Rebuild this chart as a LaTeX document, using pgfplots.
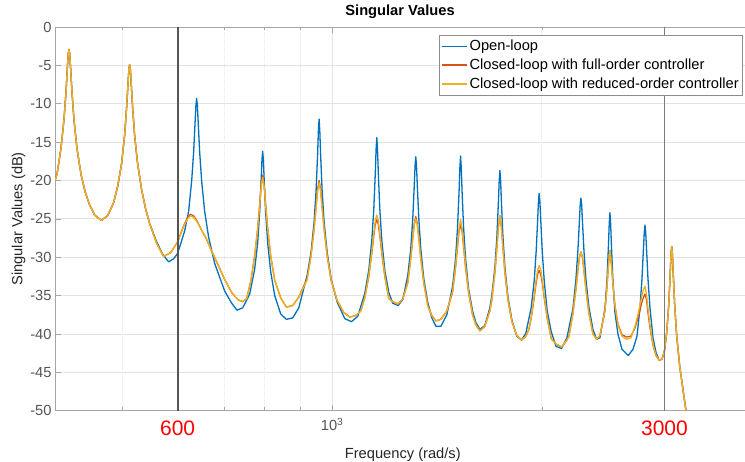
\documentclass[border=0pt]{standalone}
\usepackage{fontspec}
\setmainfont{Liberation Sans}
\usepackage{pgfplots}
\pgfplotsset{compat=1.18}
\definecolor{mblue}{HTML}{0072BD}
\definecolor{morange}{HTML}{D95319}
\definecolor{myellow}{HTML}{EDB120}
\definecolor{tickgray}{HTML}{555555}
\definecolor{labgray}{HTML}{262626}
\definecolor{axgray}{HTML}{A6A6A6}
\definecolor{gridgray}{HTML}{E3E3E3}
\definecolor{mgridgray}{HTML}{E6E6E6}
\definecolor{legedge}{HTML}{8C8C8C}
\definecolor{vline}{HTML}{555555}
\definecolor{vlineb}{HTML}{7A7A7A}
\begin{document}
\begin{tikzpicture}
\begin{axis}[
  at={(0pt,0pt)}, anchor=south west,
  scale only axis, width=690pt, height=383.7pt,
  xmode=log, xmin=400, xmax=3916, ymin=-50, ymax=0,
  axis y line*=left,
  axis line style={axgray, line width=0.8pt},
  font=\fontsize{14.67}{17.6}\selectfont,
  ytick={-50,-45,...,0},
  xtick={1000}, xticklabels={10\textsuperscript{3}},
  x tick label style={yshift=-4pt},
  minor xtick={400,500,600,700,800,900,2000,3000},
  extra x ticks={600,3000},
  extra x tick labels={600,3000},
  extra x tick style={major tick length=0pt, xmajorgrids=false,
     tick label style={text=red, font=\fontsize{21}{25}\selectfont, yshift=-3pt}},
  /pgf/number format/assume math mode=true,
  tick label style={text=tickgray},
  major tick length=6pt, minor tick length=3.3pt,
  tick style={axgray, line width=0.6pt},
  ymajorgrids, xmajorgrids, xminorgrids,
  major grid style={gridgray, line width=0.7pt},
  minor grid style={mgridgray, line width=0.7pt, dash pattern=on 1pt off 1pt},
  every axis title shift=0pt,
  title={Singular Values},
  title style={at={(axis description cs:0.5,1.0391)}, anchor=center, font=\fontsize{14.67}{17.6}\selectfont\bfseries, text=black},
  xlabel={Frequency (rad/s)},
  xlabel style={at={(axis description cs:0.504,-0.114)}, anchor=center, text=labgray},
  ylabel={Singular Values (dB)},
  ylabel style={at={(axis description cs:-0.0529,0.5)}, anchor=center, text=labgray},
  legend style={at={(rel axis cs:0.9971,0.97915)}, anchor=north east, draw=legedge, line width=0.6pt, fill=white,
     text=black, font=\fontsize{14.67}{17.6}\selectfont, inner xsep=2pt, inner ysep=1.5pt, row sep=0pt,
     nodes={inner ysep=3.4pt, inner xsep=2pt}},
  legend cell align=left,
  legend image code/.code={\draw[#1] (0pt,0pt) -- (25pt,0pt);},
  every axis plot/.append style={line join=round},
]
\addlegendimage{draw=mblue, line width=1.5pt}
\addlegendentry{Open-loop}
\addlegendimage{draw=morange, line width=1.5pt}
\addlegendentry{Closed-loop with full-order controller}
\addlegendimage{draw=myellow, line width=1.5pt}
\addlegendentry{Closed-loop with reduced-order controller}
\addplot[forget plot, draw=mblue, line width=1.3pt] coordinates {
(400,-20.0) (402.6,-19.2) (408.0,-15.8) (412.0,-12.1) (414.8,-8.5) (416.8,-5.1) (417.9,-3.5) (418.9,-2.9)
(419.9,-3.5) (421.0,-5.1) (423.1,-8.5) (425.9,-12.1) (430.1,-15.8) (435.9,-19.2) (441.7,-21.4) (447.6,-23.0)
(455.9,-24.5) (466.2,-25.2) (476.0,-24.6) (485.5,-22.9) (492.0,-20.8) (498.5,-17.8) (503.5,-14.1) (506.8,-10.5)
(509.4,-7.1) (510.7,-5.5) (511.9,-4.9) (513.1,-5.5) (514.4,-7.1) (517.0,-10.5) (520.4,-14.1) (525.6,-17.8)
(532.6,-21.2) (539.7,-23.7) (546.9,-25.6)
(559.7,-28.0) (571.0,-29.6) (582.4,-30.6) (592.1,-30.2) (600.0,-29.5) (614.0,-26.6) (622.2,-24.0) (628.4,-20.1)
(632.6,-16.3) (635.7,-12.3) (637.4,-10.2) (638.9,-9.3) (640.4,-10.2) (642.1,-12.3) (645.3,-16.3) (649.6,-20.1)
(656.0,-24.0) (664.8,-27.4) (678.1,-30.8) (700.9,-34.4) (717.4,-36.0) (730.0,-36.9) (744.0,-36.6) (761.4,-34.8)
(774.0,-31.6) (781.8,-28.2) (786.9,-24.2) (790.9,-19.9) (793.0,-17.3) (794.8,-16.2) (796.6,-17.3) (798.8,-19.9)
(802.7,-24.2) (808.1,-28.2) (816.1,-31.9) (827.0,-35.0) (843.6,-37.4) (859.5,-38.1) (877.8,-37.9) (895.4,-36.6)
(920.4,-32.4) (932.7,-29.3) (942.0,-25.4) (948.2,-21.3) (953.0,-16.6) (955.5,-13.5) (957.7,-12.0) (959.9,-13.5)
(962.5,-16.6) (967.3,-21.3) (973.7,-25.4) (983.4,-29.3) (996.5,-32.8) (1016.3,-35.8) (1042.5,-38.0) (1066.0,-38.4)
(1088.4,-37.7) (1113.9,-34.7) (1128.7,-31.7) (1140.0,-27.8) (1147.6,-23.7) (1153.3,-19.0) (1156.3,-15.9) (1159.0,-14.4)
(1161.7,-15.9) (1164.8,-19.0) (1170.6,-23.7) (1178.3,-27.8) (1190.1,-31.7) (1205.9,-34.6) (1222.0,-36.0) (1243.6,-36.3)
(1263.1,-35.5) (1283.9,-32.4) (1296.7,-28.9) (1305.4,-24.9) (1311.9,-20.6) (1315.4,-18.0) (1318.4,-16.9) (1321.5,-18.0)
(1325.0,-20.6) (1331.6,-24.9) (1340.4,-28.9) (1353.8,-32.8) (1371.8,-35.9) (1390.3,-37.9) (1409.2,-39.0) (1432.3,-39.0)
(1461.0,-37.5) (1488.9,-33.8) (1503.8,-30.2) (1513.8,-26.1) (1521.3,-21.4) (1525.4,-18.3) (1528.9,-16.8) (1532.4,-18.3)
(1536.5,-21.4) (1544.1,-26.1) (1554.4,-30.2) (1569.9,-34.1) (1590.8,-37.0) (1608.1,-38.5) (1629.8,-39.4) (1656.7,-38.9)
(1684.3,-36.6) (1695.7,-34.9) (1712.7,-31.3) (1724.1,-27.3) (1732.7,-22.8) (1737.3,-20.0) (1741.3,-18.7) (1745.3,-20.0)
(1750.0,-22.8) (1758.7,-27.3) (1770.3,-31.3) (1788.0,-35.1) (1811.8,-38.2) (1841.7,-40.3) (1870.8,-40.8) (1897.3,-39.9)
(1931.1,-36.6) (1950.4,-33.1) (1963.3,-29.2) (1973.1,-25.0) (1978.3,-22.7) (1982.9,-21.7) (1987.5,-22.7) (1992.8,-25.0)
(2002.7,-29.2) (2016.0,-33.1) (2036.1,-37.0) (2063.2,-39.7) (2095.5,-41.6) (2135.3,-41.9) (2173.1,-40.5) (2216.5,-36.7)
(2238.6,-32.9) (2253.5,-29.1) (2264.8,-25.2) (2270.7,-23.1) (2276.0,-22.3) (2281.3,-23.1) (2287.3,-25.2) (2298.7,-29.1)
(2314.0,-32.9) (2337.1,-36.5) (2368.3,-39.4) (2397.3,-40.7) (2423.7,-40.5) (2464.0,-36.7) (2480.4,-33.1) (2492.7,-28.5)
(2499.3,-25.6) (2505.1,-24.2) (2510.9,-25.6) (2517.6,-28.5) (2530.1,-33.1) (2546.9,-37.2) (2572.3,-40.0) (2606.8,-42.0)
(2662.0,-42.8) (2703.4,-42.0) (2739.5,-40.3) (2766.7,-36.6) (2785.1,-32.8) (2799.0,-28.8) (2806.4,-26.7) (2812.9,-25.8)
(2819.4,-26.7) (2826.9,-28.8) (2841.0,-32.8) (2859.8,-36.6) (2888.4,-40.5) (2917.2,-42.4) (2946.3,-43.4) (2975.7,-43.3)
(3000.0,-42.2) (3022.4,-39.8) (3042.5,-36.3) (3057.6,-32.1) (3065.8,-29.6) (3072.9,-28.6) (3080.0,-29.6) (3088.2,-32.1)
(3103.5,-36.3) (3124.2,-40.3) (3155.3,-44.2) (3221.4,-50.0) (3286.1,-55.0)
};
\addplot[forget plot, draw=morange, line width=1.3pt] coordinates {
(400,-20.0) (402.6,-19.2) (408.0,-15.8) (412.0,-12.1) (414.8,-8.5) (416.8,-5.1) (417.9,-3.5) (418.9,-2.9)
(419.9,-3.5) (421.0,-5.1) (423.1,-8.5) (425.9,-12.1) (430.1,-15.8) (435.9,-19.2) (441.7,-21.4) (447.6,-23.0)
(455.9,-24.5) (466.2,-25.2) (476.0,-24.6) (485.5,-22.9) (492.0,-20.8) (498.5,-17.8) (503.5,-14.1) (506.8,-10.5)
(509.4,-7.1) (510.7,-5.5) (511.9,-4.9) (513.1,-5.5) (514.4,-7.1) (517.0,-10.5) (520.4,-14.1) (525.6,-17.8)
(532.6,-21.2) (539.7,-23.7) (546.9,-25.6)
(559.7,-28.2) (572.8,-29.9) (586.3,-29.4) (600.0,-28.0) (612.0,-25.9) (620.2,-24.8) (625.7,-24.4) (632.6,-24.6)
(641.0,-25.4) (649.6,-26.5) (659.8,-27.6) (671.4,-29.2) (684.9,-30.9) (700.9,-32.9) (717.4,-34.6) (731.7,-35.5)
(743.2,-35.8) (753.9,-35.4) (765.0,-32.9) (774.0,-29.8) (781.8,-26.3) (786.9,-23.2) (790.9,-20.6) (794.8,-19.3)
(798.8,-20.6) (802.7,-23.2) (808.1,-26.3) (816.1,-29.8) (827.0,-33.0) (843.6,-35.3) (859.5,-36.5) (877.8,-36.3)
(895.4,-35.2) (920.4,-32.8) (932.7,-29.7) (942.0,-26.3) (948.2,-23.4) (953.0,-21.1) (957.7,-20.0) (962.5,-21.1)
(967.3,-23.4) (973.7,-26.3) (983.4,-29.7) (996.5,-33.0) (1016.3,-35.6) (1039.1,-37.2) (1060.0,-37.8) (1081.2,-37.6)
(1099.2,-37.0) (1113.9,-35.3) (1128.7,-32.5) (1140.0,-29.5) (1147.6,-27.2) (1153.3,-25.7) (1159.0,-25.1) (1164.8,-25.7)
(1170.6,-27.2) (1178.3,-29.5) (1190.1,-32.5) (1205.9,-35.4) (1222.0,-35.8) (1243.6,-36.1) (1263.1,-35.4) (1283.9,-33.3)
(1296.7,-30.1) (1305.4,-27.45) (1311.9,-25.6) (1318.4,-24.7) (1325.0,-25.6) (1331.6,-27.45) (1340.4,-30.1) (1353.8,-33.3)
(1371.8,-36.3) (1390.3,-37.6) (1409.2,-38.3) (1432.3,-38.1) (1461.0,-37.0) (1488.9,-34.6) (1503.8,-31.35) (1513.8,-28.6)
(1521.3,-26.6) (1528.9,-25.7) (1536.5,-26.6) (1544.1,-28.6) (1554.4,-31.35) (1569.9,-34.6) (1590.8,-37.5) (1608.1,-38.8)
(1629.8,-39.6) (1656.7,-39.0) (1684.3,-37.0) (1695.7,-35.5) (1712.7,-32.0) (1724.1,-28.75) (1732.7,-26.1) (1741.3,-24.6)
(1750.0,-26.1) (1758.7,-28.75) (1770.3,-32.0) (1788.0,-35.5) (1811.8,-38.4) (1841.7,-40.2) (1870.8,-40.8) (1897.3,-40.3)
(1916.3,-39.4) (1931.1,-38.0) (1950.4,-35.3) (1963.3,-33.3) (1973.1,-32.2) (1982.9,-31.7) (1992.8,-32.2) (2002.7,-33.3)
(2016.0,-35.3) (2036.1,-38.0) (2063.2,-40.6) (2095.5,-41.3) (2135.3,-41.7) (2173.1,-40.8) (2187.4,-40.3) (2216.5,-37.3)
(2238.6,-34.2) (2253.5,-31.7) (2264.8,-30.0) (2276.0,-29.3) (2287.3,-30.0) (2298.7,-31.7) (2314.0,-34.2) (2337.1,-37.3)
(2368.3,-40.0) (2397.3,-40.7) (2423.7,-40.2) (2464.0,-37.0) (2480.4,-34.0) (2492.7,-31.0) (2505.1,-29.1) (2517.6,-31.0)
(2530.1,-33.5) (2546.9,-36.3) (2572.3,-38.7) (2606.8,-40.1) (2647.6,-40.4) (2685.6,-40.3) (2721.4,-39.2) (2751.2,-37.8)
(2782.3,-36.0) (2799.0,-35.2) (2812.9,-34.8) (2826.9,-35.5) (2843.8,-37.6) (2864.5,-39.6) (2891.2,-41.6) (2917.2,-42.8)
(2946.3,-43.4) (2975.7,-43.3) (3000.0,-42.2) (3022.4,-39.8) (3042.5,-36.3) (3057.6,-32.1) (3065.8,-29.6) (3072.9,-28.6)
(3080.0,-29.6) (3088.2,-32.1) (3103.5,-36.3) (3124.2,-40.3) (3155.3,-44.2) (3221.4,-50.0) (3286.1,-55.0)
};
\addplot[forget plot, draw=myellow, line width=1.3pt] coordinates {
(400,-20.0) (402.6,-19.2) (408.0,-15.8) (412.0,-12.1) (414.8,-8.5) (416.8,-5.1) (417.9,-3.5) (418.9,-2.9)
(419.9,-3.5) (421.0,-5.1) (423.1,-8.5) (425.9,-12.1) (430.1,-15.8) (435.9,-19.2) (441.7,-21.4) (447.6,-23.0)
(455.9,-24.5) (466.2,-25.2) (476.0,-24.6) (485.5,-22.9) (492.0,-20.8) (498.5,-17.8) (503.5,-14.1) (506.8,-10.5)
(509.4,-7.1) (510.7,-5.5) (511.9,-4.9) (513.1,-5.5) (514.4,-7.1) (517.0,-10.5) (520.4,-14.1) (525.6,-17.8)
(532.6,-21.2) (539.7,-23.7) (546.9,-25.6)
(559.7,-28.2) (572.8,-29.9) (586.3,-29.4) (600.0,-28.0) (612.0,-26.0) (620.2,-25.0) (625.7,-24.6) (632.6,-24.8)
(641.0,-25.5) (649.6,-26.5) (659.8,-27.6) (671.4,-29.2) (684.9,-30.9) (700.9,-32.9) (717.4,-34.6) (731.7,-35.5)
(743.2,-35.8) (753.9,-35.4) (765.0,-33.0) (774.0,-29.8) (781.8,-26.3) (786.9,-23.3) (790.9,-20.85) (794.8,-19.6)
(798.8,-20.85) (802.7,-23.3) (808.1,-26.3) (816.1,-29.8) (827.0,-33.0) (843.6,-35.3) (859.5,-36.5) (877.8,-36.3)
(895.4,-35.2) (920.4,-33.0) (932.7,-29.8) (942.0,-26.4) (948.2,-23.6) (953.0,-21.4) (957.7,-20.3) (962.5,-21.4)
(967.3,-23.6) (973.7,-26.4) (983.4,-29.8) (996.5,-33.0) (1016.3,-35.6) (1039.1,-37.2) (1060.0,-37.8) (1081.2,-37.6)
(1099.2,-37.0) (1113.9,-35.3) (1128.7,-32.4) (1140.0,-29.3) (1147.6,-26.9) (1153.3,-25.2) (1159.0,-24.5) (1164.8,-25.2)
(1170.6,-26.9) (1178.3,-29.3) (1190.1,-32.4) (1205.9,-35.4) (1222.0,-35.8) (1243.6,-36.1) (1263.1,-35.4) (1283.9,-33.4)
(1296.7,-30.2) (1305.4,-27.6) (1311.9,-25.8) (1318.4,-25.0) (1325.0,-25.8) (1331.6,-27.6) (1340.4,-30.2) (1353.8,-33.4)
(1371.8,-36.4) (1390.3,-37.6) (1409.2,-38.3) (1432.3,-38.1) (1461.0,-37.0) (1488.9,-34.5) (1503.8,-31.2) (1513.8,-28.3)
(1521.3,-26.2) (1528.9,-25.1) (1536.5,-26.2) (1544.1,-28.3) (1554.4,-31.2) (1569.9,-34.5) (1590.8,-37.5) (1608.1,-38.8)
(1629.8,-39.6) (1656.7,-39.0) (1684.3,-37.0) (1695.7,-35.5) (1712.7,-32.0) (1724.1,-28.75) (1732.7,-26.1) (1741.3,-24.6)
(1750.0,-26.1) (1758.7,-28.75) (1770.3,-32.0) (1788.0,-35.5) (1811.8,-38.4) (1841.7,-40.2) (1870.8,-40.8) (1897.3,-40.3)
(1916.3,-39.4) (1931.1,-37.9) (1950.4,-35.0) (1963.3,-32.9) (1973.1,-31.6) (1982.9,-31.1) (1992.8,-31.6) (2002.7,-32.9)
(2016.0,-35.0) (2036.1,-37.9) (2063.2,-40.6) (2095.5,-41.3) (2135.3,-41.7) (2173.1,-40.8) (2187.4,-40.3) (2216.5,-37.3)
(2238.6,-34.2) (2253.5,-31.7) (2264.8,-30.0) (2276.0,-29.3) (2287.3,-30.0) (2298.7,-31.7) (2314.0,-34.2) (2337.1,-37.3)
(2368.3,-40.0) (2397.3,-40.7) (2423.7,-40.2) (2464.0,-37.0) (2480.4,-34.0) (2492.7,-31.0) (2505.1,-29.1) (2517.6,-31.0)
(2530.1,-33.5) (2546.9,-36.3) (2572.3,-38.8) (2606.8,-40.3) (2647.6,-40.7) (2685.6,-40.5) (2721.4,-39.0) (2751.2,-37.3)
(2782.3,-35.2) (2799.0,-34.2) (2812.9,-33.8) (2826.9,-34.8) (2843.8,-37.0) (2864.5,-39.4) (2891.2,-41.5) (2917.2,-42.8)
(2946.3,-43.4) (2975.7,-43.3) (3000.0,-42.2) (3022.4,-39.8) (3042.5,-36.3) (3057.6,-32.1) (3065.8,-29.6) (3072.9,-28.6)
(3080.0,-29.6) (3088.2,-32.1) (3103.5,-36.3) (3124.2,-40.3) (3155.3,-44.2) (3221.4,-50.0) (3286.1,-55.0)
};
\addplot[forget plot, draw=vline, line width=2.2pt] coordinates {(600,-50) (600,0)};
\addplot[forget plot, draw=vlineb, line width=1.2pt] coordinates {(3000,-50) (3000,0)};
\end{axis}
\pgfresetboundingbox
\useasboundingbox (-55pt,-50.3pt) rectangle (690pt,410.7pt);
\end{tikzpicture}
\end{document}
